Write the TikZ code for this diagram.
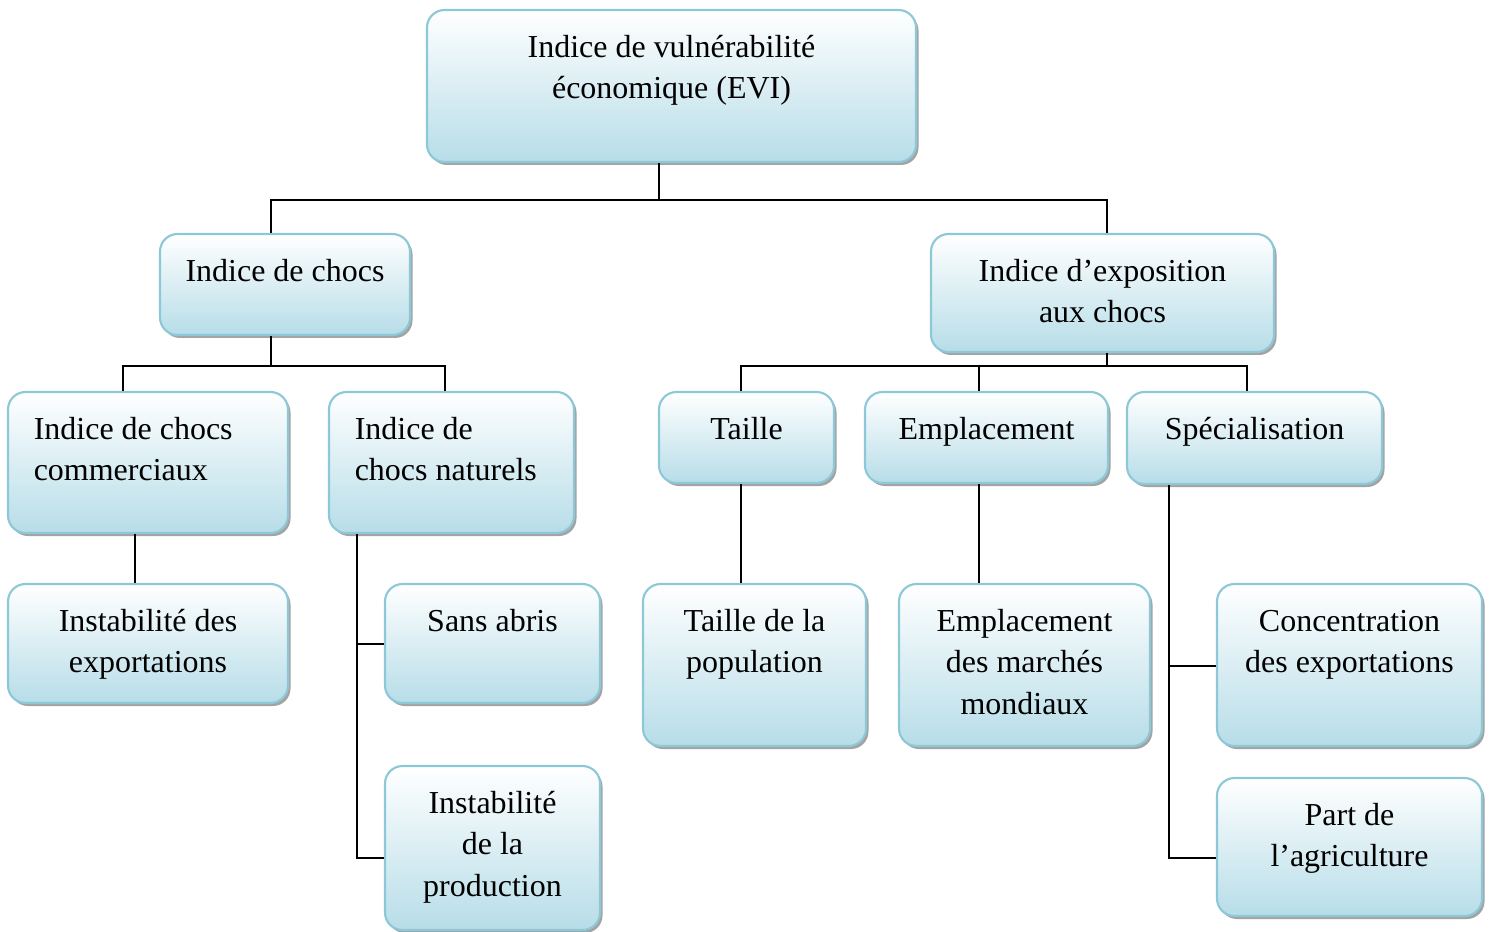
\documentclass[tikz,border=0pt]{standalone}
\usepackage{fontspec}
\setmainfont{Liberation Serif}
\usetikzlibrary{fit,shadows}
\definecolor{boxfill}{RGB}{183,221,232}
\definecolor{boxline}{RGB}{140,200,216}
\newcommand{\boxfont}{\fontsize{18.2}{23.8}\selectfont}
\tikzset{
  box/.style={rounded corners=0.35cm, draw=boxline, line width=1.2pt,
    top color=white, bottom color=boxfill, inner sep=0pt,
    drop shadow={shadow xshift=0.05cm, shadow yshift=-0.06cm, fill=black!45, opacity=0.8}},
  txt/.style={font=\boxfont, align=center, anchor=north, yshift=-0.37cm, inner sep=0pt},
  txtl/.style={txt, align=left, anchor=north west, xshift=0.53cm},
  link/.style={line width=1pt}
}
\begin{document}
\begin{tikzpicture}[x=0.02cm, y=-0.02cm]
\useasboundingbox (0,0) rectangle (1493,932);
% racine
\node[box, fit={(427,10) (916,162)}, label={[txt]north:{\strut Indice de vulnérabilité\\économique (EVI)}}] (evi) {};
% deux indices
\node[box, fit={(160,234) (410,335)}, label={[txt]north:{\strut Indice de chocs}}] (chocs) {};
\node[box, fit={(931,234) (1274,352)}, label={[txt]north:{\strut Indice d’exposition\\aux chocs}}] (expo) {};
% sous-indices
\node[box, fit={(8,392) (288,533)}, label={[txtl]north west:{\strut Indice de chocs\\commerciaux}}] (com) {};
\node[box, fit={(329,392) (574,533)}, label={[txtl]north west:{\strut Indice de\\chocs naturels}}] (nat) {};
\node[box, fit={(659,392) (834,483)}, label={[txt]north:{\strut Taille}}] (taille) {};
\node[box, fit={(865,392) (1108,483)}, label={[txt]north:{\strut Emplacement}}] (empl) {};
\node[box, fit={(1127,392) (1382,484)}, label={[txt]north:{\strut Spécialisation}}] (spec) {};
% composantes
\node[box, fit={(8,584) (288,703)}, label={[txt]north:{\strut Instabilité des\\exportations}}] (instab) {};
\node[box, fit={(385,584) (600,703)}, label={[txt]north:{\strut Sans abris}}] (sans) {};
\node[box, fit={(385,766) (600,930)}, label={[txt]north:{\strut Instabilité\\de la\\production}}] (prod) {};
\node[box, fit={(643,584) (866,746)}, label={[txt]north:{\strut Taille de la\\population}}] (pop) {};
\node[box, fit={(899,584) (1150,746)}, label={[txt]north:{\strut Emplacement\\des marchés\\mondiaux}}] (marches) {};
\node[box, fit={(1217,584) (1482,746)}, label={[txt]north:{\strut Concentration\\des exportations}}] (conc) {};
\node[box, fit={(1217,778) (1482,916)}, label={[txt]north:{\strut Part de\\l’agriculture}}] (agri) {};
% liaisons
\coordinate (b0) at (659,200);
\coordinate (b1) at (271,366);
\coordinate (b2) at (1107,366);
\coordinate (n1) at (357,644);
\coordinate (s1) at (1169,666);
\draw[link] (evi.south -| b0) -- (b0);
\draw[link] (chocs.north -| 271,0) |- (b0) -| (expo.north -| 1107,0);
\draw[link] (chocs.south -| b1) -- (b1);
\draw[link] (com.north -| 123,0) |- (b1) -| (nat.north -| 445,0);
\draw[link] (expo.south -| b2) -- (b2);
\draw[link] (taille.north -| 741,0) |- (b2) -| (spec.north -| 1247,0);
\draw[link] (empl.north -| 979,0) -- (b2 -| 979,0);
\draw[link] (com.south -| 135,0) -- (instab.north -| 135,0);
\draw[link] (nat.south -| 357,0) |- (prod.west |- 0,858);
\draw[link] (n1) -- (sans.west |- n1);
\draw[link] (taille.south -| 741,0) -- (pop.north -| 741,0);
\draw[link] (empl.south -| 979,0) -- (marches.north -| 979,0);
\draw[link] (spec.south -| 1169,0) |- (agri.west |- 0,858);
\draw[link] (s1) -- (conc.west |- s1);
\end{tikzpicture}
\end{document}
